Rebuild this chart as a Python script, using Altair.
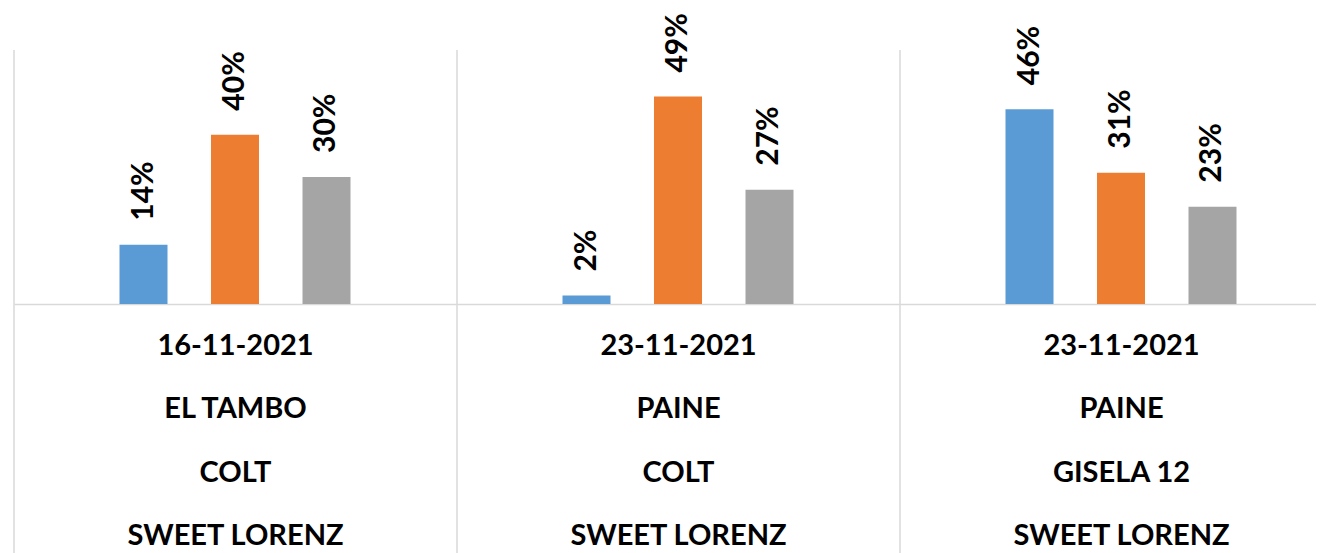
import altair as alt
import pandas as pd

# ---- data ----
dates = ["16-11-2021", "23-11-2021", "23-11-2021"]
sites = ["EL TAMBO", "PAINE", "PAINE"]
rootstocks = ["COLT", "COLT", "GISELA 12"]
varieties = ["SWEET LORENZ", "SWEET LORENZ", "SWEET LORENZ"]
series = ["Serie 1", "Serie 2", "Serie 3"]
values_g1 = [14, 40, 30]
values_g2 = [2, 49, 27]
values_g3 = [46, 31, 23]
colors = ["#5B9BD5", "#ED7D31", "#A5A5A5"]

groups = ["\n".join(t) for t in zip(dates, sites, rootstocks, varieties)]
all_values = [values_g1, values_g2, values_g3]

rows = []
for g, vals in zip(groups, all_values):
    for s, v in zip(series, vals):
        rows.append({"group": g, "series": s, "value": v, "label": f"{v}%"})
df = pd.DataFrame(rows)
gdf = pd.DataFrame({"group": groups})

FONT = "Lato"

x_axis = alt.Axis(
    title=None, ticks=False, grid=False, labelAngle=0,
    domainColor="#d9d9d9", domainWidth=1.5,
    labelFont=FONT, labelFontSize=29, labelFontWeight="bold", labelColor="black",
    labelLineHeight=63.5, labelBaseline="top", labelPadding=27,
    labelLimit=600, labelOverlap=False,
    labelExpr="split(datum.label, '\\n')",
)
x_scale = alt.Scale(range=[0, 1329], paddingInner=0, paddingOuter=0)

x_enc = alt.X("group:N", sort=groups, scale=x_scale, axis=x_axis)
xoff = alt.XOffset("series:N", sort=series,
                   scale=alt.Scale(range=[105.5, 336.5], paddingInner=0.4754, paddingOuter=0))
y_enc = alt.Y("value:Q", scale=alt.Scale(domain=[0, 60]), axis=None)

bars = alt.Chart(df).mark_bar().encode(
    x=x_enc, xOffset=xoff, y=y_enc,
    color=alt.Color("series:N", scale=alt.Scale(domain=series, range=colors), legend=None),
)

labels = alt.Chart(df).mark_text(
    angle=270, align="left", baseline="middle", dx=24,
    font=FONT, fontSize=30, fontWeight="bold", color="black",
).encode(x=x_enc, xOffset=xoff, y=y_enc, text="label:N")

dividers = alt.Chart(gdf).mark_rule(color="#d9d9d9", strokeWidth=1.5).encode(
    x=alt.X("group:N", sort=groups, scale=x_scale, axis=x_axis, bandPosition=0),
    y=alt.value(0), y2=alt.value(600),
)

chart = alt.layer(dividers, bars, labels).properties(
    width=1302, height=254,
    autosize=alt.AutoSizeParams(type="none"),
    padding={"left": 6, "top": 42, "right": 0, "bottom": 249},
    background="white",
).configure_view(stroke=None)

chart.save("out.html", embed_options={"renderer": "svg", "actions": False})
